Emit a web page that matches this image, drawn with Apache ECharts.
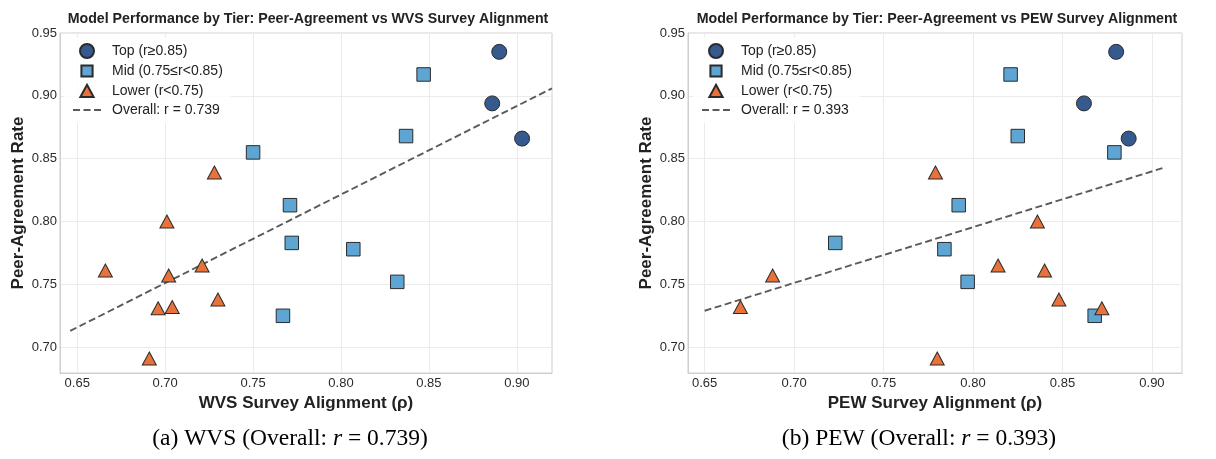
<!DOCTYPE html>
<html>
<head>
<meta charset="utf-8">
<script src="https://cdn.jsdelivr.net/npm/echarts@6/dist/echarts.min.js"></script>
<style>
html,body{margin:0;padding:0;background:#fff;}
#c{width:1216px;height:459px;}
</style>
</head>
<body>
<div id="c"></div>
<script>
// ---- data ----
const tierNames = ['Top (r≥0.85)', 'Mid (0.75≤r<0.85)', 'Lower (r<0.75)'];

const topPeer = [0.935, 0.894, 0.866];
const topWVS  = [0.890, 0.886, 0.903];
const topPEW  = [0.880, 0.862, 0.887];

const midPeer = [0.917, 0.868, 0.855, 0.813, 0.783, 0.778, 0.752, 0.725];
const midWVS  = [0.847, 0.837, 0.750, 0.771, 0.772, 0.807, 0.832, 0.767];
const midPEW  = [0.821, 0.825, 0.879, 0.792, 0.723, 0.784, 0.797, 0.868];

const lowPeer = [0.839, 0.800, 0.765, 0.761, 0.757, 0.738, 0.732, 0.731, 0.691];
const lowWVS  = [0.728, 0.701, 0.721, 0.666, 0.702, 0.730, 0.704, 0.696, 0.691];
const lowPEW  = [0.779, 0.836, 0.814, 0.840, 0.688, 0.848, 0.670, 0.872, 0.780];

const wvsFitX = [0.646, 0.920];
const wvsFitY = [0.713, 0.906];
const pewFitX = [0.650, 0.907];
const pewFitY = [0.729, 0.843];

const wvsR = '0.739';
const pewR = '0.393';

const xTicks = [0.65, 0.70, 0.75, 0.80, 0.85, 0.90];
const yTicks = [0.70, 0.75, 0.80, 0.85, 0.90, 0.95];

const titles = ['Model Performance by Tier: Peer-Agreement vs WVS Survey Alignment',
                'Model Performance by Tier: Peer-Agreement vs PEW Survey Alignment'];
const xNames = ['WVS Survey Alignment (ρ)', 'PEW Survey Alignment (ρ)'];
const yName = 'Peer-Agreement Rate';
const captionLabels = [['(a) WVS (Overall: ', wvsR, ')'], ['(b) PEW (Overall: ', pewR, ')']];

// ---- styles ----
const FONT = 'Liberation Sans';
const colTop = '#355a8e';
const colMid = '#5ea5d4';
const colLow = '#e8723a';
const edge = '#2b2b2b';

function zip(a, b) { return a.map((v, i) => [v, b[i]]); }

const grids = [
  {left: 60, top: 33, width: 492, height: 340},
  {left: 688, top: 33, width: 494, height: 340}
];
const xRanges = [[0.6402, 0.920], [0.6407, 0.9168]];

function xAxis(i) {
  return {
    type: 'value', gridIndex: i, min: xRanges[i][0], max: xRanges[i][1],
    name: xNames[i], nameLocation: 'middle', nameGap: 18,
    nameTextStyle: {fontFamily: FONT, fontWeight: 'bold', fontSize: 17, color: '#222'},
    axisLine: {show: true, lineStyle: {color: '#cfcfcf', width: 1}},
    axisTick: {show: false, customValues: xTicks},
    splitLine: {show: true, lineStyle: {color: '#ebebeb', width: 1}},
    axisLabel: {
      fontFamily: FONT, fontSize: 13, color: '#2a2a2a', margin: 4,
      customValues: xTicks, formatter: v => v.toFixed(2)
    }
  };
}
function yAxis(i) {
  return {
    type: 'value', gridIndex: i, min: 0.6795, max: 0.95,
    name: yName, nameLocation: 'middle', nameGap: 33, nameRotate: 90,
    nameTextStyle: {fontFamily: FONT, fontWeight: 'bold', fontSize: 17, color: '#222'},
    axisLine: {show: true, lineStyle: {color: '#cfcfcf', width: 1}},
    axisTick: {show: false, customValues: yTicks},
    splitLine: {show: true, lineStyle: {color: '#ebebeb', width: 1}},
    axisLabel: {
      fontFamily: FONT, fontSize: 13, color: '#2a2a2a', margin: 3,
      customValues: yTicks, formatter: v => v.toFixed(2)
    }
  };
}

function scatter(i, name, xs, ys, sym, size, color) {
  return {
    type: 'scatter', name: name, xAxisIndex: i, yAxisIndex: i,
    data: zip(xs, ys), symbol: sym, symbolSize: size,
    itemStyle: {color: color, borderColor: edge, borderWidth: 1, opacity: 1},
    emphasis: {disabled: true}, z: 3
  };
}
function fit(i, name, xs, ys) {
  return {
    type: 'line', name: name, xAxisIndex: i, yAxisIndex: i,
    data: zip(xs, ys), symbol: 'circle', showSymbol: false, clip: true,
    lineStyle: {color: '#5a5a5a', width: 1.9, type: [7, 3.5]},
    itemStyle: {color: '#5a5a5a'},
    emphasis: {disabled: true}, z: 2
  };
}

const fitNames = ['Overall: r = ' + wvsR, 'Overall: r = ' + pewR];
const series = [];
const sets = [[topWVS, midWVS, lowWVS, wvsFitX, wvsFitY], [topPEW, midPEW, lowPEW, pewFitX, pewFitY]];
for (let i = 0; i < 2; i++) {
  const s = sets[i];
  series.push(fit(i, fitNames[i], s[3], s[4]));
  series.push(scatter(i, tierNames[0], s[0], topPeer, 'circle', 15, colTop));
  series.push(scatter(i, tierNames[1], s[1], midPeer, 'rect', 13.5, colMid));
  series.push(scatter(i, tierNames[2], s[2], lowPeer, 'triangle', [14, 13], colLow));
}

function legend(i, left) {
  return {
    orient: 'vertical', left: left, top: 37,
    data: [
      {name: tierNames[0], icon: 'circle'},
      {name: tierNames[1], icon: 'path://M0,0L0,0M15,15L15,15M1.5,1.5L13.5,1.5L13.5,13.5L1.5,13.5Z'},
      {name: tierNames[2], icon: 'path://M0,0L0,0M15,15L15,15M7.5,0.8L14.6,14L0.4,14Z'},
      {name: fitNames[i], itemStyle: {opacity: 0}}
    ],
    symbolKeepAspect: true,
    itemWidth: 28, itemHeight: 14, itemGap: 4,
    padding: [6, 8], backgroundColor: 'rgba(255,255,255,0.85)',
    textStyle: {fontFamily: FONT, fontSize: 14, color: '#222', padding: [0, 0, 0, 6]},
    selectedMode: false
  };
}

const graphics = [];
const capX = [290, 919];
for (let i = 0; i < 2; i++) {
  graphics.push({
    type: 'text',
    style: {
      x: capX[i], y: 439,
      text: '{n|' + captionLabels[i][0] + '}{i|r}{n| = ' + captionLabels[i][1] + captionLabels[i][2] + '}',
      align: 'center', verticalAlign: 'middle',
      rich: {
        n: {fontFamily: 'Liberation Serif', fontSize: 23.5, color: '#000'},
        i: {fontFamily: 'Liberation Serif', fontStyle: 'italic', fontSize: 23.5, color: '#000'}
      }
    }
  });
}

const chart = echarts.init(document.getElementById('c'), null, {renderer: 'canvas'});
chart.setOption({
  animation: false,
  backgroundColor: '#fff',
  title: [
    {text: titles[0], left: 303, top: 7, textAlign: 'center',
     textStyle: {fontFamily: FONT, fontWeight: 'bold', fontSize: 14.2, color: '#222'}},
    {text: titles[1], left: 932, top: 7, textAlign: 'center',
     textStyle: {fontFamily: FONT, fontWeight: 'bold', fontSize: 14.2, color: '#222'}}
  ],
  grid: grids.map(g => Object.assign({containLabel: false, show: true, borderColor: '#cfcfcf', borderWidth: 1, backgroundColor: 'transparent'}, g)),
  xAxis: [xAxis(0), xAxis(1)],
  yAxis: [yAxis(0), yAxis(1)],
  legend: [legend(0, 64), legend(1, 693)],
  series: series,
  graphic: graphics
});
</script>
</body>
</html>
